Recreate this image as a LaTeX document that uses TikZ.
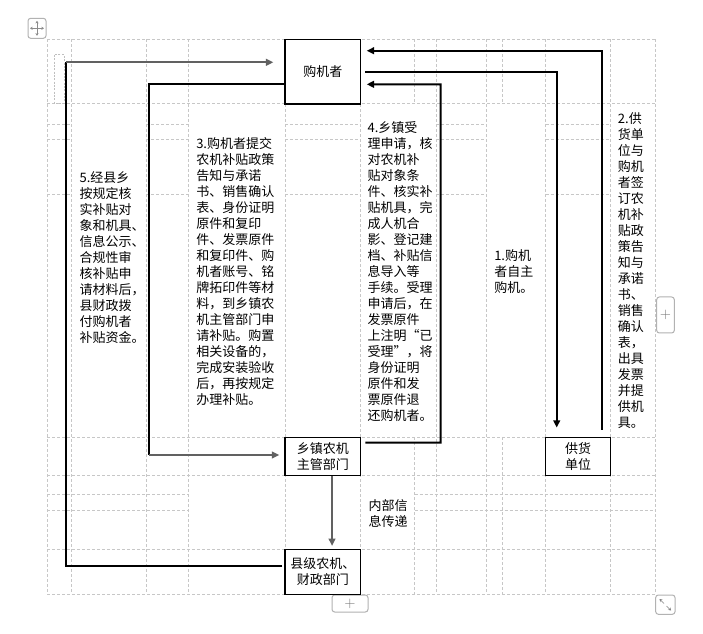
\documentclass[tikz,border=0pt]{standalone}
\usepackage{fontspec}
\newfontfamily\cjk{Noto Sans CJK SC}
\usetikzlibrary{arrows.meta}
\begin{document}
\begin{tikzpicture}[x=0.75pt,y=-0.75pt,
  grid/.style={draw=black!22, line width=0.75pt, dash pattern=on 2.25pt off 1.5pt},
  box/.style={draw=black, line width=1pt, fill=white, inner sep=0pt, align=center, font=\cjk\fontsize{9.75}{12}\selectfont},
  txt/.style={inner sep=0pt, anchor=north west, align=left, font=\cjk\fontsize{9.75}{12}\selectfont},
  conn/.style={draw=black, line width=1.5pt},
  gconn/.style={draw=black!62, line width=1.5pt},
  tip/.style={-{Triangle[length=5.5pt,width=5pt]}},
  ui/.style={draw=black!30, line width=0.75pt, rounded corners=2pt, fill=white},
  uitext/.style={text=black!55, inner sep=0pt, font=\fontsize{11}{11}\selectfont}
]
\fill[white] (0,0) rectangle (703,634);
\useasboundingbox (0,0) rectangle (703,634);

% table grid
\foreach \x in {47.3,71.7,146,188.3,285,360.7,436,486.5,545.7,610.7,655.7}
  \draw[grid] (\x,39.3) -- (\x,594.3);
\foreach \x in {414.5,502.7} {
  \draw[grid] (\x,39.3) -- (\x,104);
  \draw[grid] (\x,437.3) -- (\x,594.3);}
\foreach \y in {39.3,104,437.3,475.3,549.3,594.3}
  \draw[grid] (47.3,\y) -- (655.7,\y);
\foreach \y in {494.3,510.3} {
  \draw[grid] (47.3,\y) -- (188.3,\y);
  \draw[grid] (414.5,\y) -- (655.7,\y);}
\foreach \y in {125,140,194.3}
  \foreach \a/\b in {47.3/71.7,146/188.3,285/360.7,436/486.5,545.7/610.7}
    \draw[grid] (\a,\y) -- (\b,\y);

% small anchor frame
\draw[draw=black!25, line width=0.75pt, dash pattern=on 1.5pt off 1pt] (54.3,55) rectangle (64,103.3);

% UI handles
\draw[ui] (28,18.3) rectangle (46,38.3);
\draw[black!45, line width=0.5pt, {Stealth[length=2pt,width=2.4pt]}-{Stealth[length=2pt,width=2.4pt]}] (30,28.3) -- (44,28.3);
\draw[black!45, line width=0.5pt, {Stealth[length=2pt,width=2.4pt]}-{Stealth[length=2pt,width=2.4pt]}] (37,20.8) -- (37,35.8);
\draw[ui] (656.7,297) rectangle (674.3,333);
\node[uitext] (plusr) at (665.5,315) {+};
\draw[ui] (332,595) rectangle (368,612);
\node[uitext] (plusb) at (350,603.5) {+};
\draw[ui] (655.7,595) rectangle (675,614.3);
\draw[black!50, line width=0.5pt, -{Stealth[length=2pt,width=2.4pt]}] (664,603.5) -- (659.5,599);
\draw[black!50, line width=0.5pt, -{Stealth[length=2pt,width=2.4pt]}] (666.5,606) -- (671,610.5);

% boxes
\node[box, minimum width=56.8pt, minimum height=48.5pt] (buyer) at (322.85,71.65) {购机者};
\node[box, minimum width=56.8pt, minimum height=28.5pt] (town) at (322.85,456.3) {乡镇农机\\主管部门};
\node[box, minimum width=56.8pt, minimum height=33.75pt] (county) at (322.85,571.8) {县级农机、\\财政部门};
\node[box, minimum width=48.75pt, minimum height=28.5pt] (supplier) at (578.2,456.3) {供货\\单位};

% texts
\node[txt] (t5) at (79.3,171.7) {5.经县乡\\按规定核\\实补贴对\\象和机具、\\信息公示、\\合规性审\\核补贴申\\请材料后，\\县财政拨\\付购机者\\补贴资金。};
\node[txt] (t3) at (196,137.5) {3.购机者提交\\农机补贴政策\\告知与承诺\\书、销售确认\\表、身份证明\\原件和复印\\件、发票原件\\和复印件、购\\机者账号、铭\\牌拓印件等材\\料，到乡镇农\\机主管部门申\\请补贴。购置\\相关设备的，\\完成安装验收\\后，再按规定\\办理补贴。};
\node[txt] (t4) at (367.3,121.2) {4.乡镇受\\理申请，核\\对农机补\\贴对象条\\件、核实补\\贴机具，完\\成人机合\\影、登记建\\档、补贴信\\息导入等\\手续。受理\\申请后，在\\发票原件\\上注明“已\\受理”，将\\身份证明\\原件和发\\票原件退\\还购机者。};
\node[txt] (t1) at (494,249.2) {1.购机\\者自主\\购机。};
\node[txt] (t2) at (617.7,112.5) {2.供\\货单\\位与\\购机\\者签\\订农\\机补\\贴政\\策告\\知与\\承诺\\书、\\销售\\确认\\表，\\出具\\发票\\并提\\供机\\具。};
\node[txt] (tin) at (368.3,499) {内部信\\息传递};

% connectors
% 1
\draw[conn, tip, shorten <=3pt, shorten >=6.75pt] (buyer.east) -| ([xshift=-16.1pt]supplier.north);
% 2
\draw[conn, tip, shorten <=5pt, shorten >=4pt] ([xshift=18.1pt]supplier.north) |- ([yshift=15.7pt]buyer.east);
% 4
\coordinate (c4) at (440.7,84.3);
\draw[conn, tip, shorten <=3pt, shorten >=4pt] ([yshift=10.2pt]town.east) -| (c4) -- ([yshift=-9.5pt]buyer.east);
% 3
\coordinate (c3) at (149.3,455);
\draw[conn] ([yshift=-9.5pt]buyer.west) -| (c3);
\draw[gconn, tip, shorten >=3.75pt] (c3) -- (town.west |- c3);
% 5
\coordinate (c5) at (66,62.3);
\draw[conn, shorten <=1.5pt] ([yshift=4.6pt]county.west) -| (c5);
\draw[gconn, tip, shorten >=8.25pt] (c5) -- (buyer.west |- c5);
% internal
\draw[gconn, tip, shorten >=2pt] ([xshift=6.9pt]town.south) -- ([xshift=6.9pt]county.north);
\end{tikzpicture}
\end{document}
